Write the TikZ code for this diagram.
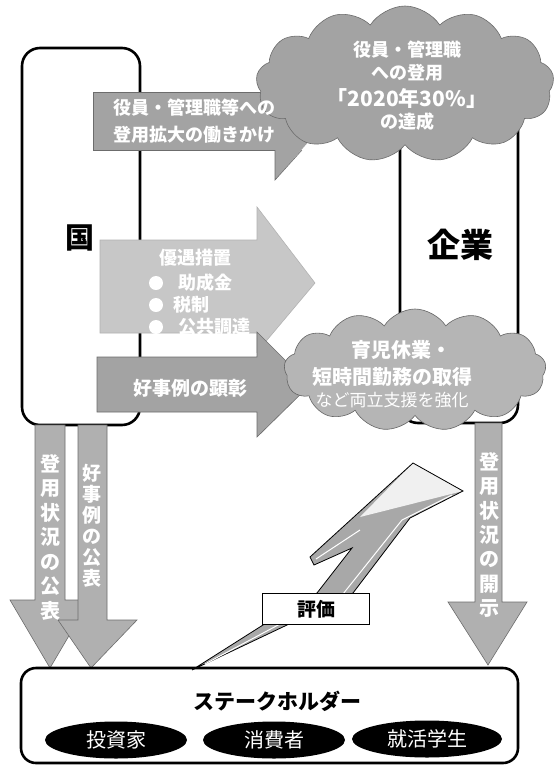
\documentclass[tikz,border=0pt]{standalone}
\usepackage{fontspec}
\setmainfont{Noto Sans CJK JP}
\usetikzlibrary{shapes.symbols,shapes.geometric}
\begin{document}
\begin{tikzpicture}[x=1pt,y=-1pt,
  bigbox/.style={draw=black, line width=2.6pt, fill=white, rounded corners=18pt},
  wb/.style={text=white, font=\bfseries\fontsize{18}{22}\selectfont, inner sep=0pt},
  wr/.style={text=white, font=\fontsize{17}{21}\selectfont, inner sep=0pt},
  darkfill/.style={fill=gray!72, draw=gray!85!black, line width=0.6pt},
  midfill/.style={fill=gray!58, draw=gray!80!black, line width=0.6pt},
  lightfill/.style={fill=gray!44, draw=gray!60, line width=0.6pt},
  downfill/.style={fill=gray!62, draw=gray!85!black, line width=0.6pt},
  vtxt/.style={text=white, align=center, inner sep=0pt},
  oval/.style={ellipse, fill=black, minimum width=142pt, minimum height=37pt, inner sep=0pt,
    text=white, font=\fontsize{20}{22}\selectfont}
]
\useasboundingbox (0,0) rectangle (556,774);
\fill[white] (0,0) rectangle (556,774);

% main boxes
\draw[bigbox] (22,48) rectangle (140,425);
\draw[bigbox] (400,48) rectangle (518,423);
\node[font=\bfseries\fontsize{29}{30}\selectfont, inner sep=0pt] (kuni) at (80,238) {国};
\node[font=\bfseries\fontsize{33}{34}\selectfont, inner sep=0pt] (kigyo) at (460,245) {企業};

% down arrows
\draw[downfill] (35,425) -- (65,425) -- (65,600) -- (90,600) -- (50,668) -- (10,600) -- (35,600) -- cycle;
\draw[downfill] (78,425) -- (107,425) -- (107,620) -- (137,620) -- (91,668) -- (58,620) -- (78,620) -- cycle;
\draw[downfill] (475,423) -- (502,423) -- (502,602) -- (527,602) -- (488,665) -- (448,602) -- (475,602) -- cycle;
\node[vtxt, font=\bfseries\fontsize{20}{24.5}\selectfont] (ta) at (50,537) {登\\用\\状\\況\\の\\公\\表};
\node[vtxt, font=\bfseries\fontsize{19}{21}\selectfont] (tb) at (92,526) {好\\事\\例\\の\\公\\表};
\node[vtxt, font=\bfseries\fontsize{20}{24.3}\selectfont] (tc) at (489,535) {登\\用\\状\\況\\の\\開\\示};

% arrow 2 (light)
\draw[lightfill] (100,240) -- (257,240) -- (257,207) -- (315,283) -- (257,352) -- (257,333) -- (100,333) -- cycle;
% arrow 3 (dark)
\draw[darkfill] (97,357) -- (257,357) -- (257,332) -- (310,385) -- (257,437) -- (257,412) -- (97,412) -- cycle;

% band 1 with tail
\fill[gray!72] (93,92) rectangle (300,150);
\draw[gray!85!black, line width=0.6pt] (300,92) -- (93,92) -- (93,150) -- (300,150);
\fill[gray!72] (275,140) -- (275,180) -- (310,140) -- cycle;
\draw[gray!85!black, line width=0.6pt] (275,150) -- (275,180) -- (302,150);

% clouds
\node[cloud, cloud puffs=13, cloud puff arc=115, aspect=1.9, minimum width=298pt, minimum height=156pt,
  fill=gray!72, draw=gray!85!black, line width=0.6pt] (c1) at (405,84) {};
\node[cloud, cloud puffs=13, cloud puff arc=115, aspect=2.1, minimum width=262pt, minimum height=122pt,
  fill=gray!58, draw=gray!80!black, line width=0.6pt] (c2) at (415,370) {};

% texts in band 1
\node[wb] (b1a) at (194,108) {役員・管理職等への};
\node[wb] (b1b) at (194,135) {登用拡大の働きかけ};

% texts in cloud 1
\node[wb, font=\bfseries\fontsize{18}{22}\selectfont] (c1a) at (407,50) {役員・管理職};
\node[wb, font=\bfseries\fontsize{18}{22}\selectfont] (c1b) at (407,73) {への登用};
\node[wb, font=\bfseries\fontsize{21}{24}\selectfont] (c1c) at (407,98) {「2020年30\%」};
\node[wb, font=\bfseries\fontsize{18}{22}\selectfont] (c1d) at (407,122) {の達成};

% texts in arrow 2
\node[wb] (a2t) at (195,258) {優遇措置};
\fill[white] (156,283) circle (7pt);
\fill[white] (156,305) circle (7pt);
\fill[white] (156,327) circle (7pt);
\node[wb, anchor=west] (a2a) at (178,283) {助成金};
\node[wb, anchor=west] (a2b) at (173,305) {税制};
\node[wb, anchor=west] (a2c) at (178,327) {公共調達};

% text in arrow 3
\node[wb, font=\bfseries\fontsize{19}{22}\selectfont] (a3t) at (190,388) {好事例の顕彰};

% texts in cloud 2
\node[wb, font=\bfseries\fontsize{20}{22}\selectfont] (c2a) at (401,350) {育児休業・};
\node[wb, font=\bfseries\fontsize{20}{22}\selectfont] (c2b) at (392,377) {短時間勤務の取得};
\node[wr] (c2c) at (392,400) {など両立支援を強化};

% stakeholder box
\draw[bigbox, rounded corners=15pt] (21,668) rectangle (518,763);
\node[font=\bfseries\fontsize{21}{22}\selectfont, inner sep=0pt] (sh) at (277,701) {ステークホルダー};
\node[oval] (o1) at (116,740) {投資家};
\node[oval] (o2) at (274,740) {消費者};
\node[oval, minimum width=150pt] (o3) at (427,739) {就活学生};

% evaluation zigzag arrow
\fill[gray!68] (192,670) -- (287,625) -- (353,593) -- (410,518) -- (463,491) -- (413,463)
  -- (310,557) -- (314,565) -- (352,548) -- (317,593) -- (263,625) -- cycle;
\fill[gray!12] (413,463) -- (463,491) -- (360,517) -- cycle;
\draw[black, line width=0.8pt] (192,670) -- (287,625) -- (353,593) -- (410,518) -- (463,491) -- (413,463)
  -- (310,557) -- (314,565) -- (352,548) -- (317,593) -- (263,625) -- cycle;
\draw[white, line width=1pt] (205,664) -- (280,624) -- (343,594) -- (402,520) -- (452,495);
\draw[white, line width=1pt] (316,559) -- (360,530);
\node[draw=black, line width=1.4pt, fill=white, minimum width=107pt, minimum height=31pt, inner sep=0pt,
  font=\bfseries\fontsize{19}{22}\selectfont] (hyoka) at (316,609) {評価};
\end{tikzpicture}
\end{document}
